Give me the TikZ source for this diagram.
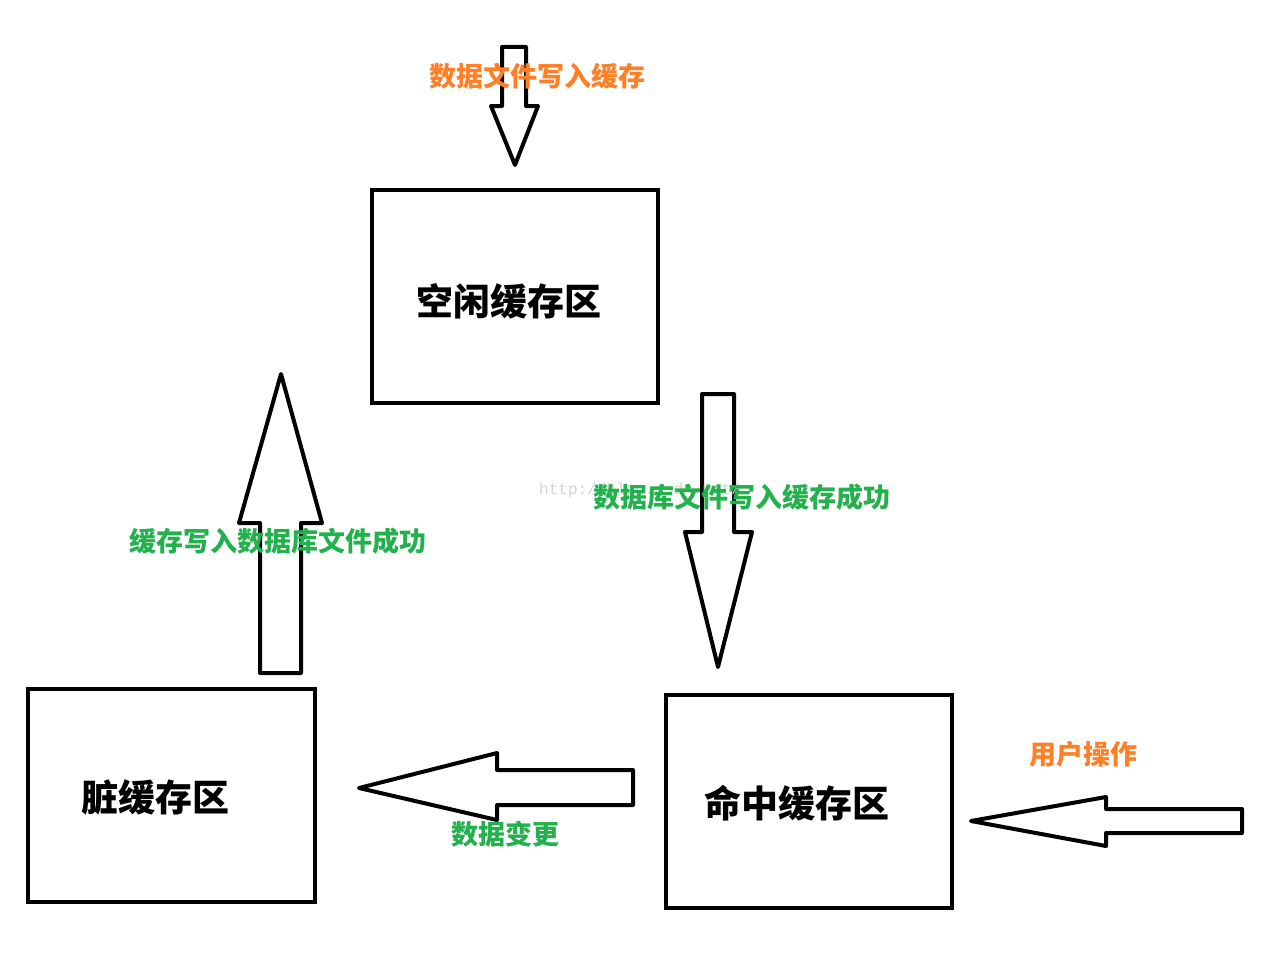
\documentclass[tikz,border=0pt]{standalone}
\usepackage{fontspec}
\newfontfamily\cjk{Noto Sans CJK SC}
\setmonofont{Liberation Mono}
\definecolor{paintorange}{HTML}{FF7F27}
\definecolor{paintgreen}{HTML}{22B14C}
\definecolor{wmgray}{HTML}{D4D4D4}
\tikzset{
  box/.style={draw=black, line width=4pt, fill=none, inner sep=0pt},
  boxlabel/.style={font=\cjk\bfseries\fontsize{37}{42}\selectfont, inner sep=0pt, text=black},
  blockarrow/.style={draw=black, line width=4pt, line join=round, fill=white},
  orangelabel/.style={font=\cjk\bfseries\fontsize{27}{32}\selectfont, text=paintorange, inner sep=0pt, anchor=west},
  greenlabel/.style={font=\cjk\bfseries\fontsize{27}{32}\selectfont, text=paintgreen, inner sep=0pt, anchor=west},
  watermark/.style={font=\ttfamily\fontsize{16}{18}\selectfont, text=wmgray, inner sep=0pt, anchor=west}
}
\begin{document}
\begin{tikzpicture}[x=1pt,y=-1pt]
\useasboundingbox[fill=white] (0,0) rectangle (1268,958);

% boxes
\node[box, minimum width=286pt, minimum height=213pt] (idle) at (515,296.5) {};
\node[boxlabel] (idletext) at (509,301) {空闲缓存区};
\node[box, minimum width=287pt, minimum height=213pt] (dirty) at (171.5,795.5) {};
\node[boxlabel] (dirtytext) at (155,797) {脏缓存区};
\node[box, minimum width=286pt, minimum height=213pt] (hit) at (809,801.5) {};
\node[boxlabel] (hittext) at (797,803) {命中缓存区};

% top arrow (down into idle)
\draw[blockarrow] (502,47) -- (526,47) -- (526,106) -- (538,106) -- (515,165) -- (491,106) -- (502,106) -- cycle;
\node[orangelabel] (lbltop) at (429,76) {数据文件写入缓存};

% idle -> hit (down)
\draw[blockarrow] (702,394) -- (734,394) -- (734,532) -- (752,532) -- (718,667) -- (685,532) -- (702,532) -- cycle;
\node[watermark] (wm) at (539,490) {http://blog.csdn.net/};
\node[greenlabel] (lblright) at (593,497) {数据库文件写入缓存成功};

% dirty -> idle (up)
\draw[blockarrow] (260,673) -- (301,673) -- (301,523) -- (322,523) -- (281,374) -- (239,523) -- (260,523) -- cycle;
\node[greenlabel] (lblleft) at (129,541) {缓存写入数据库文件成功};

% hit -> dirty (left)
\draw[blockarrow] (633,770) -- (633,805) -- (497,805) -- (497,820) -- (359,788) -- (497,753) -- (497,770) -- cycle;
\node[greenlabel] (lblbottom) at (451,834) {数据变更};

% user -> hit (left)
\draw[blockarrow] (1242,809) -- (1242,833) -- (1106,833) -- (1106,846) -- (971,821) -- (1106,797) -- (1106,809) -- cycle;
\node[orangelabel] (lbluser) at (1029,754) {用户操作};
\end{tikzpicture}
\end{document}
